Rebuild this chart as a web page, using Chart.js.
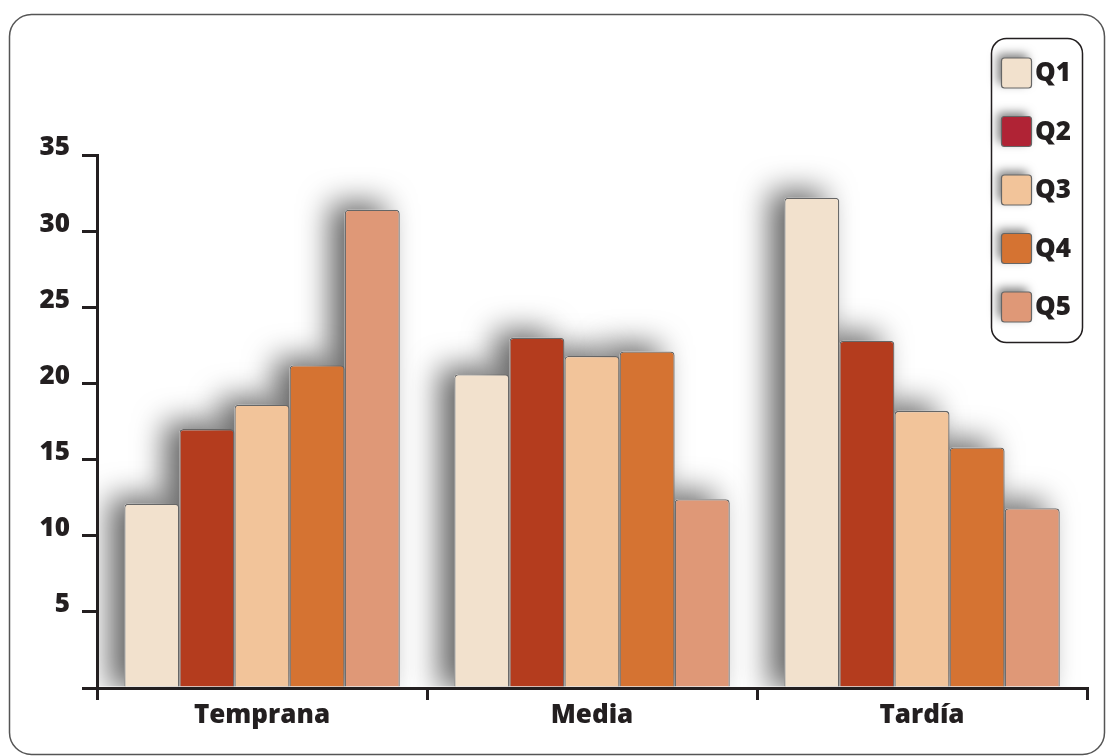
<!DOCTYPE html>
<html>
<head>
<meta charset="utf-8">
<script src="https://cdn.jsdelivr.net/npm/chart.js@4"></script>
<style>
html,body{margin:0;padding:0;background:#fff;}
#wrap{width:1109px;height:756px;position:relative;}
</style>
</head>
<body>
<div id="wrap"><canvas id="c"></canvas></div>
<script>
const categories = ["Temprana", "Media", "Tardía"];
const seriesLabels = ["Q1", "Q2", "Q3", "Q4", "Q5"];
const q1 = [12.1, 20.6, 32.2];
const q2 = [17.0, 23.0, 22.8];
const q3 = [18.6, 21.8, 18.2];
const q4 = [21.2, 22.1, 15.8];
const q5 = [31.4, 12.4, 11.8];
const barColors = ["#F2E1CD", "#B43C1E", "#F2C49A", "#D57332", "#DF9877"];
const legendColors = ["#F2E1CD", "#B02335", "#F2C49A", "#D57332", "#DF9877"];
const yTicks = [0, 5, 10, 15, 20, 25, 30, 35];

const FONT = "'Open Sans', 'Noto Sans', sans-serif";
const INK = "#231F20";

function roundRect(ctx, x, y, w, h, r) {
  ctx.beginPath();
  ctx.moveTo(x + r, y);
  ctx.lineTo(x + w - r, y);
  ctx.arcTo(x + w, y, x + w, y + r, r);
  ctx.lineTo(x + w, y + h - r);
  ctx.arcTo(x + w, y + h, x + w - r, y + h, r);
  ctx.lineTo(x + r, y + h);
  ctx.arcTo(x, y + h, x, y + h - r, r);
  ctx.lineTo(x, y + r);
  ctx.arcTo(x, y, x + r, y, r);
  ctx.closePath();
}

const decor = {
  id: "decor",
  beforeDraw(chart) {
    const ctx = chart.ctx;
    ctx.save();
    ctx.fillStyle = "#fff";
    ctx.fillRect(0, 0, chart.width, chart.height);
    ctx.strokeStyle = "#555";
    ctx.lineWidth = 1.5;
    roundRect(ctx, 9.5, 14.5, 1095, 740, 22);
    ctx.stroke();
    ctx.restore();
  },
  beforeDatasetsDraw(chart) {
    const ctx = chart.ctx;
    const area = chart.chartArea;
    ctx.save();
    ctx.beginPath();
    ctx.rect(area.left + 2, 0, area.right - area.left, area.bottom - 1.5);
    ctx.clip();
    chart.data.datasets.forEach((ds, i) => {
      const meta = chart.getDatasetMeta(i);
      meta.data.forEach(el => {
        const p = el.getProps(["x", "y", "base", "width"], true);
        ctx.save();
        ctx.shadowColor = "rgba(0,0,0,0.6)";
        ctx.shadowBlur = 30;
        ctx.shadowOffsetX = -15;
        ctx.shadowOffsetY = -7;
        ctx.fillStyle = "#fff";
        roundRect(ctx, p.x - p.width / 2, p.y, p.width, p.base - p.y + 10, 4);
        ctx.fill();
        ctx.restore();
      });
    });
    ctx.restore();
  },
  afterDraw(chart) {
    const ctx = chart.ctx;
    ctx.save();
    ctx.strokeStyle = INK;
    ctx.lineWidth = 1.5;
    roundRect(ctx, 991.5, 38.5, 91, 304, 15);
    ctx.fillStyle = "#fff";
    ctx.fill();
    ctx.stroke();
    seriesLabels.forEach((lab, i) => {
      const cy = 73 + 58.5 * i;
      ctx.save();
      ctx.shadowColor = "rgba(0,0,0,0.5)";
      ctx.shadowBlur = 10;
      ctx.shadowOffsetX = -4;
      ctx.shadowOffsetY = -4;
      ctx.fillStyle = legendColors[i];
      roundRect(ctx, 1001.5, cy - 15, 30, 30, 3);
      ctx.fill();
      ctx.restore();
      ctx.strokeStyle = "#666";
      ctx.lineWidth = 1.2;
      roundRect(ctx, 1001.5, cy - 15, 30, 30, 3);
      ctx.stroke();
      ctx.fillStyle = INK;
      ctx.font = "800 26px " + FONT;
      ctx.textAlign = "left";
      ctx.textBaseline = "middle";
      ctx.fillText(lab, 1035, cy + 1);
    });
    ctx.restore();
  }
};

const seriesData = [q1, q2, q3, q4, q5];
const datasets = seriesLabels.map((lab, i) => ({
  label: lab,
  data: seriesData[i],
  backgroundColor: barColors[i],
  borderColor: "#666666",
  borderWidth: 1.3,
  borderRadius: 4,
  borderSkipped: "bottom",
  categoryPercentage: 0.835,
  barPercentage: 1.0
}));

new Chart(document.getElementById("c"), {
  type: "bar",
  data: { labels: categories, datasets },
  options: {
    responsive: true,
    maintainAspectRatio: false,
    animation: false,
    layout: { padding: { top: 155, right: 22, left: 0, bottom: 0 } },
    plugins: { legend: { display: false }, tooltip: { enabled: false } },
    scales: {
      x: {
        offset: true,
        grid: {
          offset: true,
          drawOnChartArea: false,
          drawTicks: true,
          tickLength: 12,
          lineWidth: 3,
          color: (c) => (c.index === 3 ? "rgba(0,0,0,0)" : INK)
        },
        border: { display: true, color: INK, width: 3 },
        ticks: {
          color: INK,
          font: { family: FONT, size: 26, weight: "800" },
          padding: 0,
          maxRotation: 0
        },
        afterFit(scale) { scale.height = 68; }
      },
      y: {
        min: 0,
        max: 35,
        afterBuildTicks(scale) { scale.ticks = yTicks.map(v => ({ value: v })); },
        grid: {
          drawOnChartArea: false,
          drawTicks: true,
          tickLength: 15,
          lineWidth: 3,
          color: INK
        },
        border: { display: true, color: INK, width: 3 },
        ticks: {
          color: INK,
          font: { family: FONT, size: 26, weight: "800" },
          padding: 12,
          labelOffset: -7,
          callback: (v) => (v === 0 ? "" : String(v))
        },
        afterFit(scale) { scale.width = 97; }
      }
    }
  },
  plugins: [decor]
});
</script>
</body>
</html>
